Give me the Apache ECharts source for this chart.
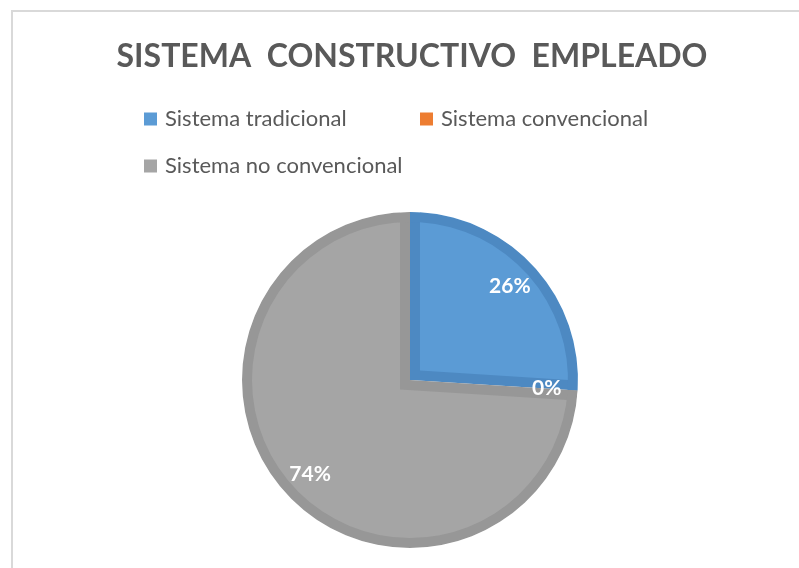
<!DOCTYPE html>
<html>
<head>
<meta charset="utf-8">
<script src="https://cdn.jsdelivr.net/npm/echarts@6/dist/echarts.min.js"></script>
<style>
  html, body { margin: 0; padding: 0; background: #fff; }
  #frame { position: absolute; left: 11px; top: 10px; width: 820px; height: 600px; border: 2px solid #d9d9d9; box-sizing: border-box; }
  #chart { position: absolute; left: 0; top: 0; width: 799px; height: 568px; }
</style>
</head>
<body>
<div id="frame"></div>
<div id="chart"></div>
<script>
const categories = ['Sistema tradicional', 'Sistema convencional', 'Sistema no convencional']
const values = [26, 0, 74]
const fillColors = ['#5b9bd5', '#ed7d31', '#a5a5a5']
const edgeColors = ['#4d89c2', '#d46a22', '#979797']

const chart = echarts.init(document.getElementById('chart'), null, { renderer: 'canvas' })

const center = [410, 380]
const R = 168      // outer radius
const inset = 10   // width of darker edge
const total = values.reduce((a, b) => a + b, 0)
// offset so the shifted slice edges sit `inset` px inside the real ones
const shift = inset / Math.sin(Math.PI * values[0] / total)

const mk = (colors) => categories.map((name, i) => ({
  name: name,
  value: values[i],
  itemStyle: { color: colors[i] },
}))

const common = {
  type: 'pie',
  center: center,
  startAngle: 90,
  clockwise: true,
  silent: true,
  animation: false,
  label: { show: false },
  labelLine: { show: false },
  emphasis: { disabled: true },
}

const option = {
  backgroundColor: 'transparent',
  title: {
    text: 'SISTEMA  CONSTRUCTIVO  EMPLEADO',
    left: 407,
    textAlign: 'center',
    top: 36,
    textStyle: { fontFamily: 'Lato', fontWeight: 'bold', fontSize: 32, color: '#595959' },
  },
  legend: {
    left: 144,
    top: 108,
    padding: 0,
    width: 560,
    itemWidth: 13,
    itemHeight: 13,
    itemGap: 25,
    icon: 'rect',
    data: categories.map((name, i) => ({ name: name, itemStyle: { color: fillColors[i] } })),
    textStyle: { fontFamily: 'Lato', fontSize: 22, color: '#595959', width: 230, lineHeight: 20, padding: [0, 0, 0, 3] },
  },
  series: [
    // darker base
    Object.assign({}, common, { name: 'base', radius: R, data: mk(edgeColors) }),
    // lighter inner fill, shifted in
    Object.assign({}, common, {
      name: 'inner', radius: 180, selectedMode: 'multiple', selectedOffset: shift,
      data: mk(fillColors).map(d => Object.assign(d, { selected: true })),
    }),
    // darker outer ring
    Object.assign({}, common, { name: 'ring', radius: [R - inset, R], data: mk(edgeColors) }),
    // white mask outside the circle
    Object.assign({}, common, {
      name: 'mask', radius: [R, 200],
      data: categories.map((name, i) => ({ name: name, value: values[i], itemStyle: { color: '#ffffff' } })),
    }),
    // data labels
    Object.assign({}, common, {
      name: 'labels', radius: [100, R],
      data: categories.map((name, i) => ({ name: name, value: values[i], itemStyle: { color: 'rgba(0,0,0,0)' } })),
      label: {
        show: true,
        position: 'inside',
        formatter: p => Math.round(p.percent) + '%',
        fontFamily: 'Lato',
        fontWeight: 'bold',
        fontSize: 21,
        color: '#ffffff',
      },
    }),
  ],
}
chart.setOption(option)
</script>
</body>
</html>
